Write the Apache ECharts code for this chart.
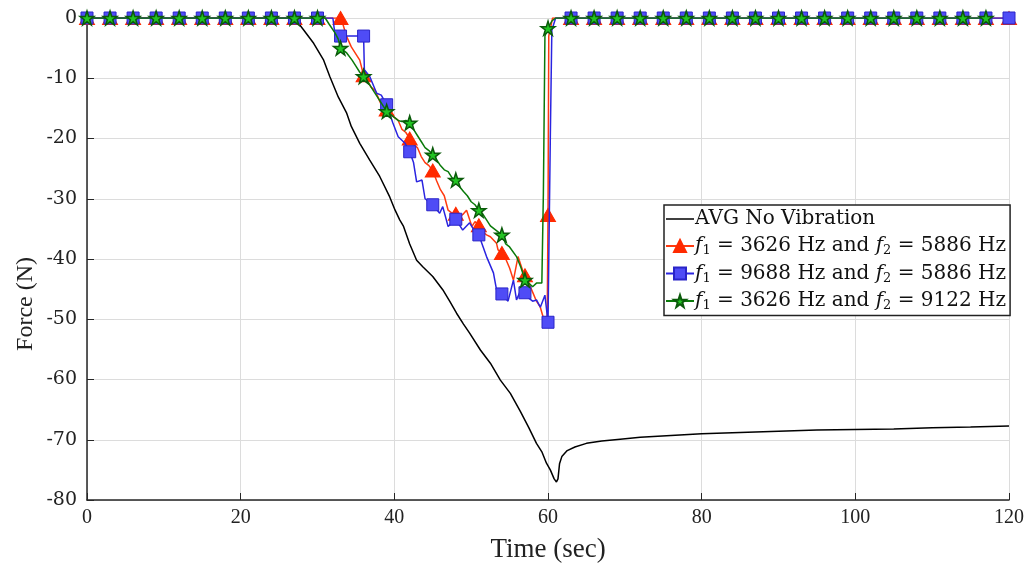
<!DOCTYPE html>
<html><head><meta charset="utf-8">
<script src="https://cdn.jsdelivr.net/npm/echarts@6/dist/echarts.min.js"></script>
<style>html,body{margin:0;padding:0;background:#fff}#c{width:1036px;height:574px}</style>
</head><body><div id="c"></div>
<script>
// ---- data ----
const seriesNames = ['AVG No Vibration', 'f1=3626,f2=5886', 'f1=9688,f2=5886', 'f1=3626,f2=9122'];
const xTicks = [0, 20, 40, 60, 80, 100, 120];
const yTicks = [-80, -70, -60, -50, -40, -30, -20, -10, 0];

const avgTime = [0, 27, 28.2, 29.5, 30.8, 31.6, 32.7, 33.8, 34.4, 35.5, 36.8, 38.1, 39.4, 40.1, 40.7, 41.2, 42, 42.9, 43.7, 45, 46.3, 47.2, 48.1, 49, 49.8, 51.2, 52.5, 53.8, 55.1, 56.4, 57.5, 58.5, 59.2, 59.8, 60.3, 60.8, 61.1, 61.3, 61.5, 61.8, 62.5, 63.5, 65, 67, 69.4, 72, 76, 80, 85, 90, 95, 100, 105, 110, 115, 120];
const avgForce = [0, 0, -2, -4.2, -7, -9.7, -13.1, -15.8, -18, -20.8, -23.6, -26.3, -29.7, -31.9, -33.5, -34.6, -37.5, -40.2, -41.3, -42.9, -45.1, -47, -49, -50.8, -52.3, -55.1, -57.3, -60.1, -62.3, -65.3, -68, -70.6, -72, -73.9, -75, -76.5, -77, -76.5, -74, -72.8, -71.8, -71.2, -70.6, -70.2, -69.9, -69.6, -69.3, -69.0, -68.8, -68.6, -68.4, -68.3, -68.2, -68.0, -67.9, -67.7];

const redTime = [0,3,6,9,12,15,18,21,24,27,30,32,33,33.3,33.8,34.4,35,35.5,36,36.5,37,37.5,38,38.5,39,39.5,40,40.5,41,41.5,42,42.5,43,43.5,44,44.5,45,45.5,46,46.5,47,47.5,48,48.5,49,49.4,50.1,50.5,51,51.5,52,52.5,53.3,53.5,54,54.5,55,55.5,56.1,56.8,57,57.5,58,58.5,59,59.4,59.9,60,60.1,60.6,63,66,69,72,75,78,81,84,87,90,93,96,99,102,105,108,111,114,117,120];
const redForce = [0,0,0,0,0,0,0,0,0,0,0,0,0,-1,-3.1,-4.8,-6,-7,-9.5,-10.5,-11.5,-12,-13.5,-15,-15.2,-16,-16.5,-17,-18.5,-19,-20,-21,-21.5,-23,-24,-24.5,-25.3,-27,-28.5,-29.5,-31.9,-32.4,-32.5,-33,-32.5,-31.9,-34.6,-33.8,-34.4,-35.5,-36,-36.3,-37.4,-38.5,-39,-40,-41.5,-43.5,-39.6,-42.3,-42.7,-44,-45.5,-47,-48,-49.8,-49.5,-32.7,-3,0,0,0,0,0,0,0,0,0,0,0,0,0,0,0,0,0,0,0,0,0];

const blueTime = [0,3,6,9,12,15,18,21,24,27,30,32,32.3,33,34,35,36,36.1,36.8,37.7,38.3,39,39.8,40.5,41.4,42,42.5,42.9,43.6,44,44.5,45,45.9,46.3,47,48,48.9,49.8,50.5,51,52,52.9,53.3,54,54.8,55.5,55.9,56.5,57,57.5,58,58.5,59,59.6,60,60.3,60.5,61,63,66,69,72,75,78,81,84,87,90,93,96,99,102,105,108,111,114,117,120];
const blueForce = [0,0,0,0,0,0,0,0,0,0,0,0,-3,-3,-3,-3,-3,-8.6,-9.7,-12.5,-12.8,-14.4,-17.4,-19.7,-20.8,-22.2,-24,-27.2,-26.9,-30,-30.5,-31,-32.4,-31.3,-34.6,-33.4,-35.2,-34,-35.5,-36,-39.6,-42.3,-45.1,-45.8,-47,-43.5,-46.8,-45,-45.6,-46.5,-47,-46.8,-48,-46,-50.5,-20,-2,0,0,0,0,0,0,0,0,0,0,0,0,0,0,0,0,0,0,0,0,0];

const greenTime = [0,3,6,9,12,15,18,21,24,27,30,31,31.5,32.3,32.7,33,33.8,34.5,35,35.5,36,36.5,37,37.5,38,38.5,39,39.5,40,40.5,41,41.5,42,42.5,43,43.5,44,44.5,45,45.5,46,46.5,47,47.5,48,48.5,49,49.5,50,50.5,51,51.5,52,52.5,53,53.5,54,54.5,55,55.9,56.5,57,57.5,58,58.5,59.2,59.4,59.6,60,60.5,61,63,66,69,72,75,78,81,84,87,90,93,96,99,102,105,108,111,114,117,120];
const greenForce = [0,0,0,0,0,0,0,0,0,0,0,0,-1,-2.5,-3.5,-5,-5.8,-7,-8,-9,-9.7,-10.5,-11.5,-12.5,-13.5,-14.5,-15.5,-16,-16.5,-17,-17.2,-17,-17.4,-18.5,-19.5,-20.5,-21.5,-22,-22.7,-23.5,-24.5,-25.2,-25.5,-26.5,-26.9,-28,-28.8,-29.5,-30.5,-31,-31.9,-32.5,-33.5,-34.5,-35,-35.5,-36,-37.5,-38,-39.6,-41.5,-43.5,-44,-44.6,-44,-44,-29,-3,-1.7,-0.5,0,0,0,0,0,0,0,0,0,0,0,0,0,0,0,0,0,0,0,0];

// ---- chart ----
const STAR = 'path://M50,0 L61.8,35.1 L98.1,35.1 L68.8,56.7 L79.4,90.5 L50,69.5 L20.6,90.5 L31.2,56.7 L1.9,35.1 L38.2,35.1 Z';
function build(ts, vs, markers) {
  return ts.map((t, i) => {
    const isM = markers && Number.isInteger(t) && t % 3 === 0;
    const d = { value: [t, vs[i]] };
    if (!isM) d.symbol = 'none';
    return d;
  });
}
const legendLabels = {
  'AVG No Vibration': 'AVG No Vibration',
  'f1=3626,f2=5886': '{i|f}{s|1} = 3626 Hz and {i|f}{s|2} = 5886 Hz',
  'f1=9688,f2=5886': '{i|f}{s|1} = 9688 Hz and {i|f}{s|2} = 5886 Hz',
  'f1=3626,f2=9122': '{i|f}{s|1} = 3626 Hz and {i|f}{s|2} = 9122 Hz'
};
const FONT = 'DejaVu Serif';
const SERIF = 'Liberation Serif';
const chart = echarts.init(document.getElementById('c'), null, { renderer: 'canvas' });
chart.setOption({
  animation: false,
  backgroundColor: '#fff',
  grid: { left: 87, right: 27, top: 18, bottom: 74, containLabel: false },
  graphic: [{
    type: 'text', left: 14, top: 257, rotation: Math.PI / 2,
    style: { text: 'Force (N)', font: '24px "Liberation Serif"', fill: '#222' }
  }],
  xAxis: {
    type: 'value', min: xTicks[0], max: xTicks[xTicks.length - 1], interval: 20,
    name: 'Time (sec)', nameLocation: 'middle', nameGap: 36,
    nameTextStyle: { fontFamily: SERIF, fontSize: 27, color: '#222' },
    axisLine: { show: true, onZero: false, lineStyle: { color: '#262626', width: 1.5 } },
    axisTick: { show: true, inside: true, length: 7, lineStyle: { color: '#262626' } },
    axisLabel: { fontFamily: SERIF, fontSize: 20, color: '#222', margin: 8 },
    splitLine: { show: true, lineStyle: { color: '#dcdcdc', width: 1 } }
  },
  yAxis: {
    type: 'value', min: yTicks[0], max: yTicks[yTicks.length - 1], interval: 10,
    axisLine: { show: true, onZero: false, lineStyle: { color: '#262626', width: 1.5 } },
    axisTick: { show: true, inside: true, length: 7, lineStyle: { color: '#262626' } },
    axisLabel: { fontFamily: FONT, fontSize: 19, color: '#222', margin: 10 },
    splitLine: { show: true, lineStyle: { color: '#dcdcdc', width: 1 } }
  },
  legend: {
    orient: 'vertical', left: 664, top: 205,
    backgroundColor: '#fff', borderColor: '#222', borderWidth: 1.5,
    padding: [3, 4, 3, 1], itemGap: 5, itemWidth: 28, itemHeight: 15,
    data: [
      { name: seriesNames[0], icon: 'path://M0,0 L28,0 L28,1.5 L0,1.5 Z', itemStyle: { color: '#000' } },
      seriesNames[1], seriesNames[2], seriesNames[3]
    ],
    formatter: n => legendLabels[n],
    textStyle: {
      fontFamily: FONT, fontSize: 20, color: '#111', lineHeight: 22, padding: [0, 0, 0, -4],
      rich: {
        i: { fontFamily: FONT, fontStyle: 'italic', fontSize: 20, color: '#111', lineHeight: 22 },
        s: { fontFamily: FONT, fontSize: 13, color: '#111', padding: [10, 0, 0, 0] }
      }
    }
  },
  series: [
    { name: seriesNames[0], type: 'line', data: build(avgTime, avgForce, false), symbol: 'none',
      lineStyle: { color: '#000', width: 1.5 }, itemStyle: { color: '#000' }, z: 2 },
    { name: seriesNames[1], type: 'line', data: build(redTime, redForce, true),
      symbol: 'triangle', symbolSize: [15, 13], showAllSymbol: true,
      lineStyle: { color: '#ff3a10', width: 1.5 },
      itemStyle: { color: '#ff2a00', borderColor: '#ff2a00', borderWidth: 1 }, z: 3 },
    { name: seriesNames[2], type: 'line', data: build(blueTime, blueForce, true),
      symbol: 'rect', symbolSize: 12, showAllSymbol: true,
      lineStyle: { color: '#2a24e0', width: 1.5 },
      itemStyle: { color: '#4f4cf6', borderColor: '#2a24c8', borderWidth: 1 }, z: 4 },
    { name: seriesNames[3], type: 'line', data: build(greenTime, greenForce, true),
      symbol: STAR, symbolSize: 14, showAllSymbol: true,
      lineStyle: { color: '#0a7a0a', width: 1.5 },
      itemStyle: { color: '#22c422', borderColor: '#0a5a0a', borderWidth: 1.5 }, z: 5 }
  ]
});
</script></body></html>
